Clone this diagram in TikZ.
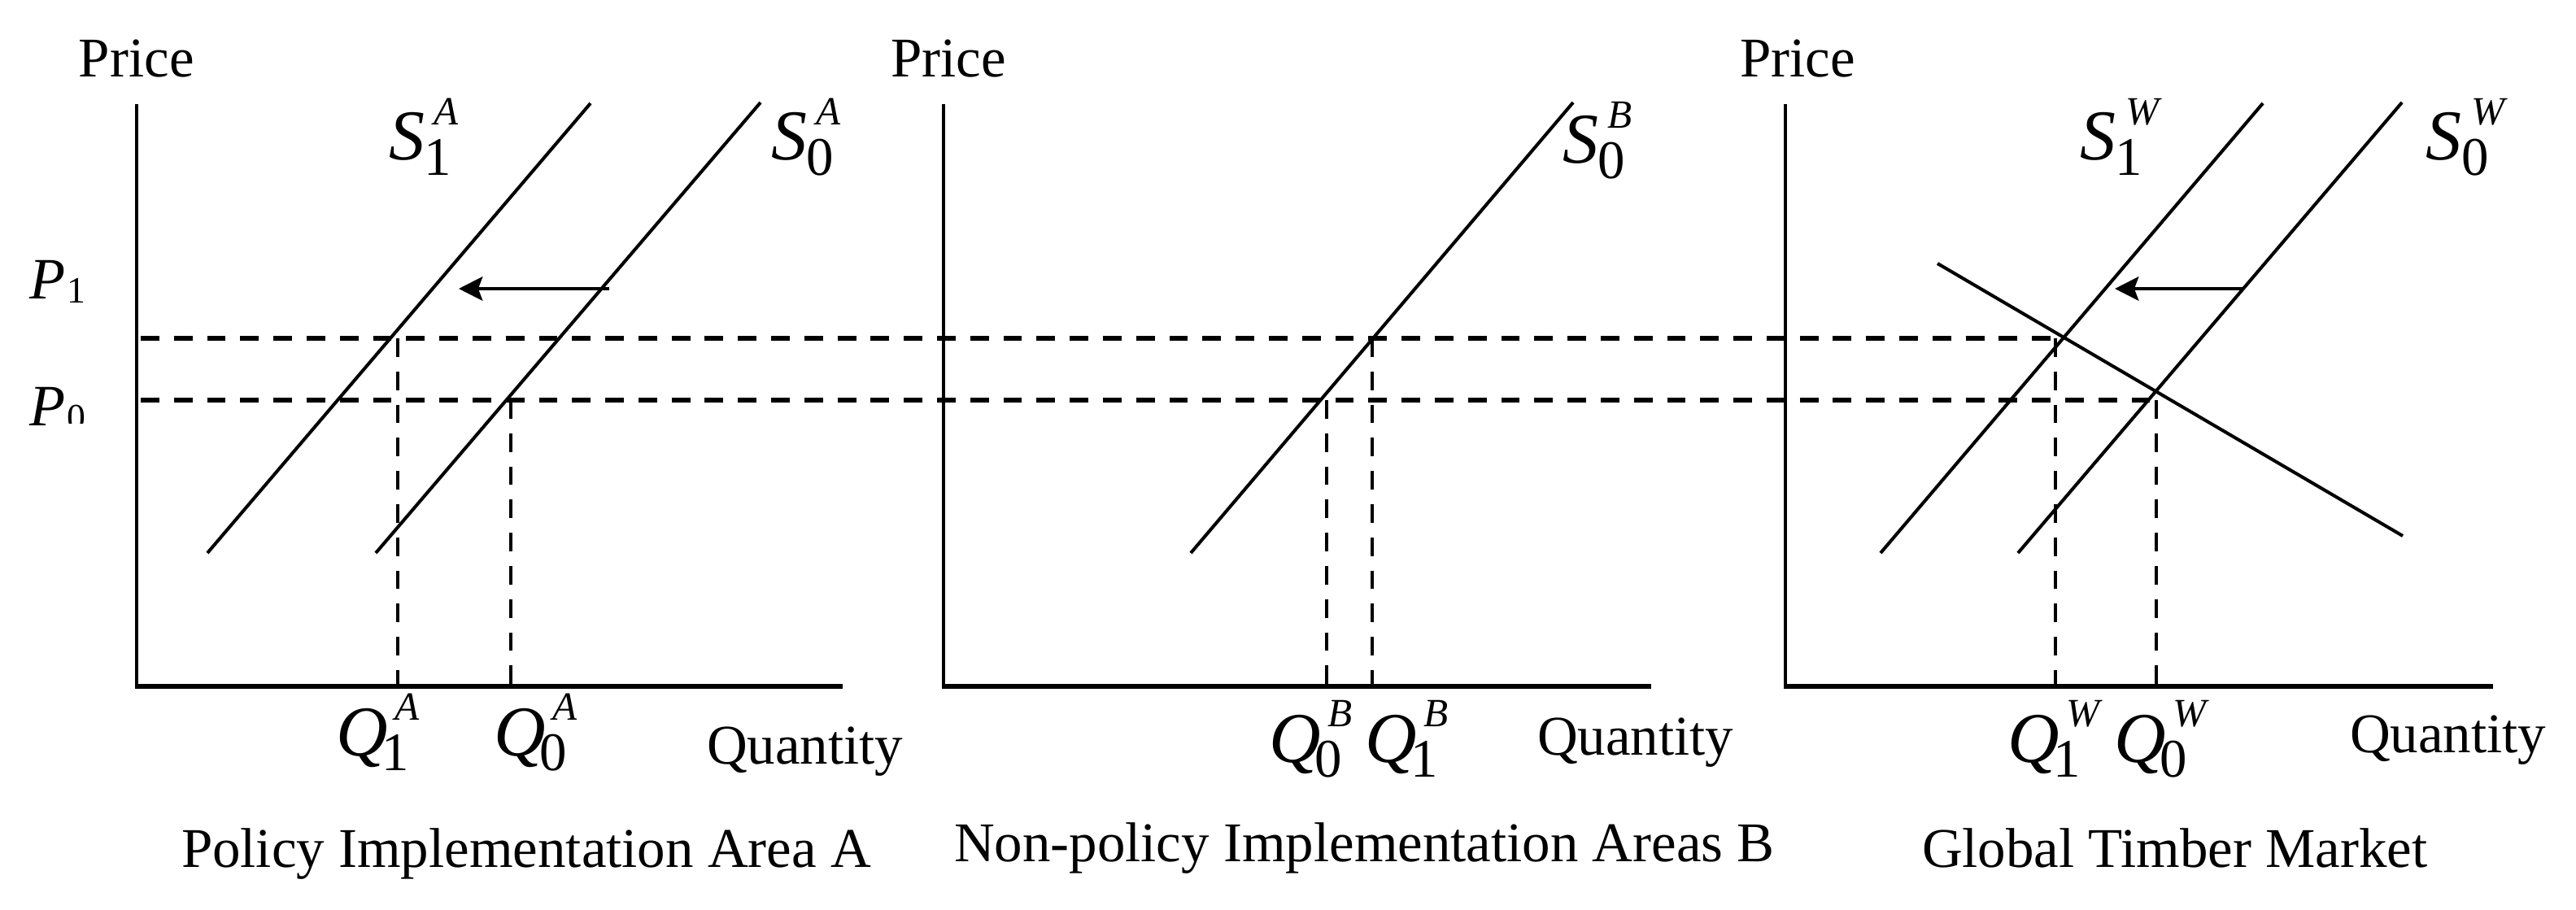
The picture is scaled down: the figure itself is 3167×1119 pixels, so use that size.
\documentclass[tikz,border=0pt]{standalone}
\usepackage{fontspec}
\setmainfont{Liberation Serif}
\usetikzlibrary{arrows.meta}
\newcommand{\txtf}{\fontsize{19.6}{23.5}\selectfont}
\newcommand{\mainf}{\fontsize{25}{25}\selectfont}
\newcommand{\supf}{\fontsize{14}{14}\selectfont}
\newcommand{\subf}{\fontsize{19}{19}\selectfont}
% #1 letter, #2 superscript, #3 subscript, #4 subscript shift, #5 superscript shift
\newcommand{\lbl}[5]{{\mainf\textit{#1}}\rlap{\hspace{#5}\raisebox{0.43cm}{\supf\textit{#2}}}\hspace{#4}\raisebox{-0.18cm}{\subf #3}}
\newcommand{\SL}[2]{\lbl{S}{#1}{#2}{0cm}{0.12cm}}
\newcommand{\QL}[2]{\lbl{Q}{#1}{#2}{-0.07cm}{0.09cm}}
\newcommand{\PL}[1]{{\fontsize{20.5}{20.5}\selectfont\textit{P}}\hspace{0.02cm}\raisebox{-0.05cm}{\fontsize{13}{13}\selectfont #1}}
\begin{document}
\begin{tikzpicture}[x=0.01cm,y=-0.01cm,
  lab/.style={inner sep=0pt,outer sep=0pt,anchor=base west,font=\txtf},
  yax/.style={line width=1.25pt},
  xax/.style={line width=1.7pt},
  supply/.style={line width=1.15pt},
  hdash/.style={line width=1.55pt,dash pattern=on 6.5pt off 5.1pt},
  vdash/.style={line width=1.25pt,dash pattern=on 6.5pt off 5.1pt},
  movearrow/.style={line width=1.4pt,-{Stealth[length=8.3pt,width=8.3pt,inset=1.5pt]}}]
\useasboundingbox (0,0) rectangle (3167,1119);

% ---------- axes ----------
\coordinate (Ay) at (168,128);  \coordinate (Ao) at (168,846);
\coordinate (Axs) at (166,844); \coordinate (Ax) at (1036,844);
\coordinate (By) at (1160,128); \coordinate (Bo) at (1160,846);
\coordinate (Bxs) at (1158,844); \coordinate (Bx) at (2030,844);
\coordinate (Cy) at (2195,128); \coordinate (Co) at (2195,846);
\coordinate (Cxs) at (2193,844); \coordinate (Cx) at (3065,844);
\draw[yax] (Ay) -- (Ao);
\draw[xax] (Axs) -- (Ax);
\draw[yax] (By) -- (Bo);
\draw[xax] (Bxs) -- (Bx);
\draw[yax] (Cy) -- (Co);
\draw[xax] (Cxs) -- (Cx);

% ---------- horizontal price lines ----------
\coordinate (P1s) at (173,416); \coordinate (P1e) at (2537,416);
\coordinate (P0s) at (173,492); \coordinate (P0e) at (2651,492);
\draw[hdash] (P1s) -- (P1e);
\draw[hdash] (P0s) -- (P0e);

% ---------- vertical quantity lines ----------
\coordinate (QA1t) at (489,416);  \coordinate (QA1b) at (489,841);
\coordinate (QA0t) at (628,492);  \coordinate (QA0b) at (628,841);
\coordinate (QB0t) at (1631,492); \coordinate (QB0b) at (1631,841);
\coordinate (QB1t) at (1687,416); \coordinate (QB1b) at (1687,841);
\coordinate (QW1t) at (2527,416); \coordinate (QW1b) at (2527,841);
\coordinate (QW0t) at (2651,492); \coordinate (QW0b) at (2651,841);
\draw[vdash] (QA1t) -- (QA1b);
\draw[vdash] (QA0t) -- (QA0b);
\draw[vdash] (QB0t) -- (QB0b);
\draw[vdash] (QB1t) -- (QB1b);
\draw[vdash] (QW1t) -- (QW1b);
\draw[vdash] (QW0t) -- (QW0b);

% ---------- supply and demand curves ----------
\coordinate (SA1t) at (726,127);   \coordinate (SA1b) at (255,680);
\coordinate (SA0t) at (935,126);   \coordinate (SA0b) at (462,680);
\coordinate (SB0t) at (1934,126);  \coordinate (SB0b) at (1464,680);
\coordinate (SW1t) at (2782,127);  \coordinate (SW1b) at (2312,680);
\coordinate (SW0t) at (2953,126);  \coordinate (SW0b) at (2481,680);
\coordinate (DWt) at (2382,324);   \coordinate (DWb) at (2954,659);
\draw[supply] (SA1t) -- (SA1b);
\draw[supply] (SA0t) -- (SA0b);
\draw[supply] (SB0t) -- (SB0b);
\draw[supply] (SW1t) -- (SW1b);
\draw[supply] (SW0t) -- (SW0b);
\draw[supply] (DWt) -- (DWb);

% ---------- shift arrows ----------
\coordinate (arAs) at (749,355); \coordinate (arAe) at (564,355);
\coordinate (arCs) at (2759,355); \coordinate (arCe) at (2600,355);
\draw[movearrow] (arAs) -- (arAe);
\draw[movearrow] (arCs) -- (arCe);

% ---------- axis titles ----------
\node[lab] (priceA) at (97,95) {Price};
\node[lab] (priceB) at (1095,95) {Price};
\node[lab] (priceC) at (2139,95) {Price};
\node[lab] (qtyA) at (869,939) {Quantity};
\node[lab] (qtyB) at (1890,928) {Quantity};
\node[lab] (qtyC) at (2889,925) {Quantity};

% ---------- price labels ----------
\node[lab] (p1) at (36,368) {\PL{1}};
\begin{scope}
  \clip (0,440) rectangle (84,560) (84,440) rectangle (140,521);
  \node[lab] (p0) at (36,524) {\PL{0}};
\end{scope}

% ---------- curve labels ----------
\node[lab] (s1a) at (478,197) {\SL{A}{1}};
\node[lab] (s0a) at (948,197) {\SL{A}{0}};
\node[lab] (s0b) at (1921,201) {\SL{B}{0}};
\node[lab] (s1w) at (2557,197) {\SL{W}{1}};
\node[lab] (s0w) at (2982,197) {\SL{W}{0}};

% ---------- quantity labels ----------
\node[lab] (q1a) at (413,929) {\QL{A}{1}};
\node[lab] (q0a) at (607,929) {\QL{A}{0}};
\node[lab] (q0b) at (1560,937) {\QL{B}{0}};
\node[lab] (q1b) at (1678,937) {\QL{B}{1}};
\node[lab] (q1w) at (2468,937) {\QL{W}{1}};
\node[lab] (q0w) at (2599,937) {\QL{W}{0}};

% ---------- panel titles ----------
\node[lab] (titA) at (223,1066) {Policy Implementation Area A};
\node[lab] (titB) at (1173,1059) {Non-policy Implementation Areas B};
\node[lab] (titC) at (2363,1066) {Global Timber Market};
\end{tikzpicture}
\end{document}
